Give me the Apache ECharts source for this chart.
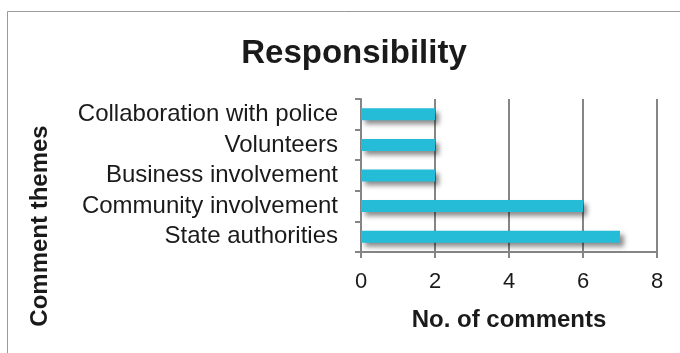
<!DOCTYPE html>
<html>
<head>
<meta charset="utf-8">
<script src="https://cdn.jsdelivr.net/npm/echarts@6/dist/echarts.min.js"></script>
<style>
  html, body { margin: 0; padding: 0; background: #fff; }
  #chart { width: 680px; height: 353px; }
</style>
</head>
<body>
<div id="chart"></div>
<script>
let themes = [
  'Collaboration with police',
  'Volunteers',
  'Business involvement',
  'Community involvement',
  'State authorities',
]
let comments = [2, 2, 2, 6, 7]
let xTicks = [0, 2, 4, 6, 8]

let font = '"Liberation Sans", Arial, sans-serif'
let gray = '#858585'

let chart = echarts.init(document.getElementById('chart'))

chart.setOption({
  animation: false,
  title: {
    text: 'Responsibility',
    left: 349,
    textAlign: 'center',
    top: 32,
    textStyle: { fontFamily: font, fontSize: 33, fontWeight: 'bold', color: '#1a1a1a' }
  },
  graphic: [
    {
      type: 'rect',
      shape: { x: 7.5, y: 11.5, width: 700, height: 400 },
      style: { fill: 'none', stroke: '#9a9a9a', lineWidth: 1 },
      silent: true
    },
    {
      type: 'text',
      x: 40,
      y: 226,
      rotation: Math.PI / 2,
      style: {
        text: 'Comment themes',
        font: 'bold 24px ' + font,
        fill: '#1a1a1a',
        align: 'center',
        verticalAlign: 'middle'
      }
    }
  ],
  grid: { left: 361, right: 23, top: 99, bottom: 101 },
  xAxis: {
    type: 'value',
    min: xTicks[0],
    max: xTicks[xTicks.length - 1],
    interval: 2,
    name: 'No. of comments',
    nameLocation: 'middle',
    nameGap: 56,
    nameTextStyle: { fontFamily: font, fontSize: 24, fontWeight: 'bold', color: '#1a1a1a' },
    axisLine: { show: true, lineStyle: { color: gray, width: 2 } },
    axisTick: { show: true, length: 6, lineStyle: { color: gray, width: 2 } },
    axisLabel: { fontFamily: font, fontSize: 22, color: '#1a1a1a', margin: 19 },
    splitLine: { show: true, lineStyle: { color: gray, width: 2 } }
  },
  yAxis: {
    type: 'category',
    data: themes,
    inverse: true,
    axisLine: { show: true, lineStyle: { color: gray, width: 2 } },
    axisTick: { show: true, length: 6, lineStyle: { color: gray, width: 2 } },
    axisLabel: { interval: 0, hideOverlap: false, fontFamily: font, fontSize: 24, color: '#1a1a1a', margin: 23 }
  },
  series: [
    {
      type: 'bar',
      data: comments,
      barWidth: 12,
      itemStyle: {
        color: '#25bcd8',
        shadowColor: 'rgba(0,0,0,0.45)',
        shadowBlur: 5,
        shadowOffsetX: 4,
        shadowOffsetY: 4
      }
    }
  ]
})
</script>
</body>
</html>
